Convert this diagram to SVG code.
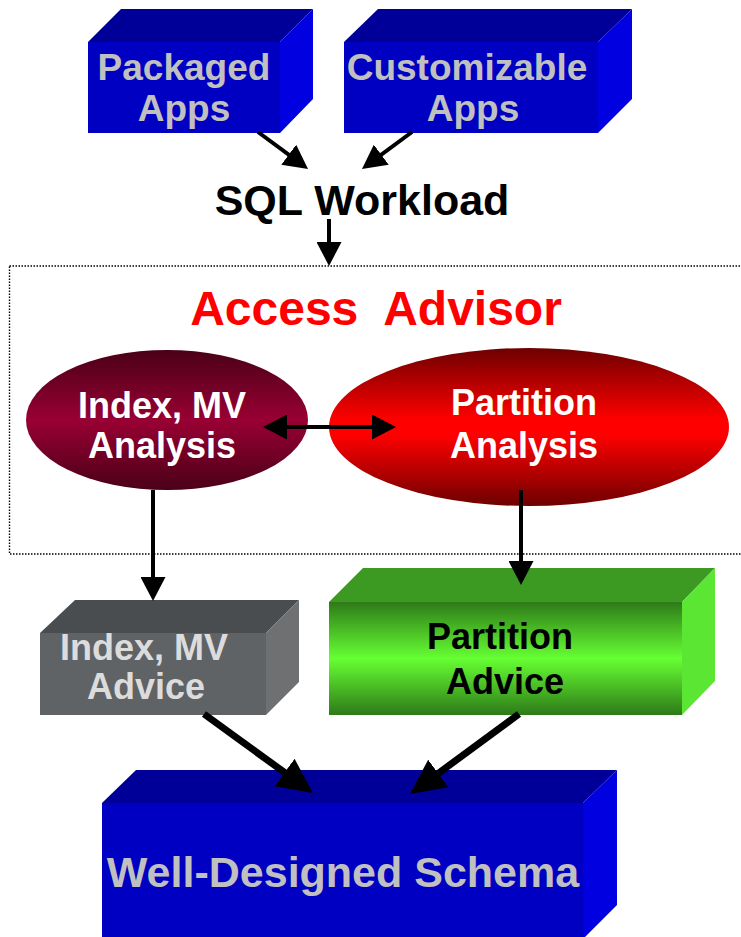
<svg xmlns="http://www.w3.org/2000/svg" width="741" height="937" viewBox="0 0 741 937">
<style>
text{font-family:"Liberation Sans",Arial,sans-serif;font-weight:bold;text-anchor:middle}
.lt{fill:#c0c0c0;font-size:37px}
.wt{fill:#ffffff;font-size:36px}
.bk{fill:#000000}
.b-top{fill:#000099}
.b-front{fill:#0000c2}
.b-right{fill:#0000e0}
.conn{stroke:#000;stroke-width:4;fill:none}
.big{stroke:#000;stroke-width:7;fill:none}
</style>
<defs>
<marker id="ah" markerUnits="userSpaceOnUse" viewBox="0 0 24 25" markerWidth="24" markerHeight="25" refX="18" refY="12.5" orient="auto-start-reverse">
<path d="M0,0 L24,12.5 L0,25 z" fill="#000"/>
</marker>
<marker id="ahBig" markerUnits="userSpaceOnUse" viewBox="0 0 35 34" markerWidth="35" markerHeight="34" refX="25" refY="17" orient="auto">
<path d="M0,0 L35,17 L0,34 z" fill="#000"/>
</marker>
<linearGradient id="gIdx" x1="0" y1="0" x2="0" y2="1">
<stop offset="0" stop-color="#4a0018"/>
<stop offset="0.5" stop-color="#990033"/>
<stop offset="1" stop-color="#4a0018"/>
</linearGradient>
<linearGradient id="gPart" x1="0" y1="0" x2="0" y2="1">
<stop offset="0" stop-color="#6e0000"/>
<stop offset="0.45" stop-color="#ff0000"/>
<stop offset="0.55" stop-color="#ff0000"/>
<stop offset="1" stop-color="#6e0000"/>
</linearGradient>
<linearGradient id="gGreen" x1="0" y1="0" x2="0" y2="1">
<stop offset="0" stop-color="#2e7a18"/>
<stop offset="0.5" stop-color="#66ff33"/>
<stop offset="1" stop-color="#2e7a18"/>
</linearGradient>
</defs>

<rect x="9.5" y="266" width="760" height="288" fill="none" stroke="#000" stroke-width="1.4" stroke-dasharray="1.5 1.5"/>

<g id="packaged-apps">
<polygon class="b-top" points="88,42 121,9 313,9 280,42"/>
<polygon class="b-right" points="280,42 313,9 313,99 280,133"/>
<rect class="b-front" x="88" y="42" width="192" height="91"/>
<text class="lt" x="184" y="80">Packaged</text>
<text class="lt" x="184" y="121">Apps</text>
</g>

<g id="customizable-apps">
<polygon class="b-top" points="344,42 378,9 632,9 598,42"/>
<polygon class="b-right" points="598,42 632,9 632,99 598,133"/>
<rect class="b-front" x="344" y="42" width="254" height="91"/>
<text class="lt" x="467" y="80">Customizable</text>
<text class="lt" x="473" y="121">Apps</text>
</g>

<g id="sql-workload">
<text class="bk" x="362" y="215" font-size="43">SQL Workload</text>
</g>

<g id="access-advisor">
<text x="376" y="325" font-size="48" fill="#ff0000" xml:space="preserve">Access  Advisor</text>
</g>

<g id="index-mv-analysis">
<ellipse cx="167" cy="420" rx="141" ry="70" fill="url(#gIdx)"/>
<text class="wt" x="162" y="418">Index, MV</text>
<text class="wt" x="162" y="458">Analysis</text>
</g>

<g id="partition-analysis">
<ellipse cx="529" cy="427" rx="200" ry="79" fill="url(#gPart)"/>
<text class="wt" x="524" y="415">Partition</text>
<text class="wt" x="524" y="458">Analysis</text>
</g>

<g id="index-mv-advice">
<polygon fill="#4a4d4f" points="40,633 75,600 299,600 266,633"/>
<polygon fill="#6f7071" points="266,633 299,600 299,682 266,715"/>
<rect x="40" y="633" width="226" height="82" fill="#606365"/>
<text x="144" y="660" font-size="36" fill="#dcdcdc">Index, MV</text>
<text x="146" y="699" font-size="36" fill="#dcdcdc">Advice</text>
</g>

<g id="partition-advice">
<polygon fill="#3c9a22" points="329,602 363,568 715,568 682,602"/>
<polygon fill="#5ae632" points="682,602 715,568 715,681 682,715"/>
<rect x="329" y="602" width="353" height="113" fill="url(#gGreen)"/>
<text class="bk" x="500" y="649" font-size="36">Partition</text>
<text class="bk" x="505" y="694" font-size="36">Advice</text>
</g>

<g id="well-designed-schema">
<polygon class="b-top" points="102,803 136,770 617,770 583,803"/>
<polygon class="b-right" points="583,803 617,770 617,905 583,939"/>
<rect class="b-front" x="102" y="803" width="481" height="140"/>
<text x="343" y="887" font-size="43" fill="#c0c0c0">Well-Designed Schema</text>
</g>

<g id="connectors">
<line class="conn" x1="258" y1="132" x2="303.2" y2="165.4" marker-end="url(#ah)"/>
<line class="conn" x1="412" y1="132" x2="366.8" y2="165.4" marker-end="url(#ah)"/>
<line class="conn" x1="329" y1="219" x2="329" y2="260" marker-end="url(#ah)"/>
<line class="conn" x1="269" y1="427" x2="390" y2="427" marker-start="url(#ah)" marker-end="url(#ah)"/>
<line class="conn" x1="153" y1="490" x2="153" y2="595" marker-end="url(#ah)"/>
<line class="conn" x1="521" y1="490" x2="521" y2="579" marker-end="url(#ah)"/>
<line class="big" x1="204" y1="714" x2="304.8" y2="787.2" marker-end="url(#ahBig)"/>
<line class="big" x1="519" y1="714" x2="418.1" y2="788.2" marker-end="url(#ahBig)"/>
</g>
</svg>
